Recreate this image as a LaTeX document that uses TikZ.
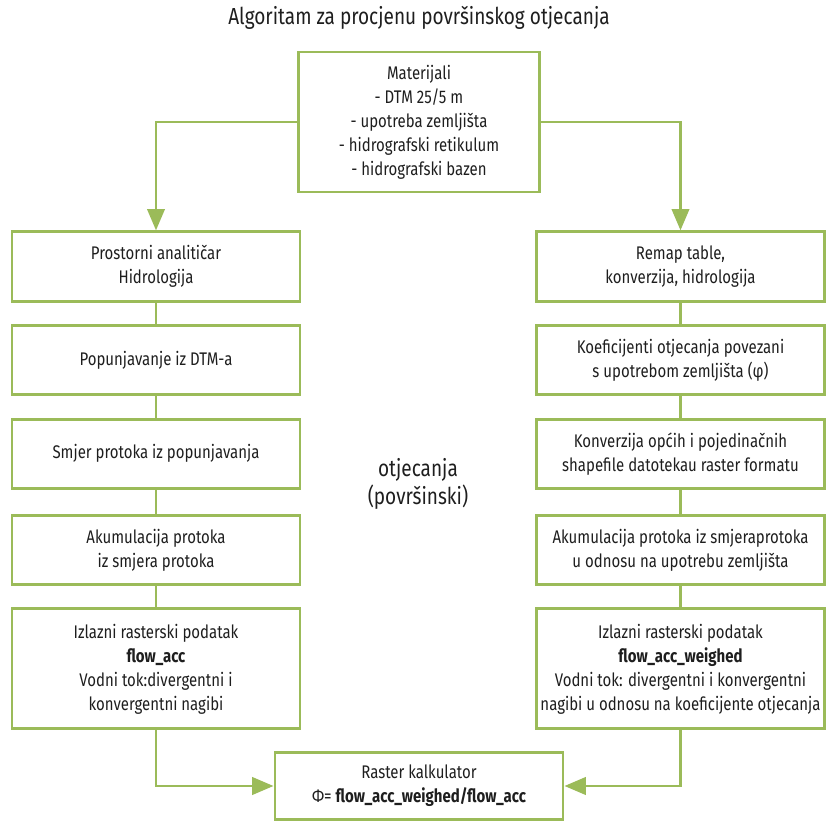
\documentclass[tikz,border=0pt]{standalone}
\usepackage{fontspec}
\setmainfont{Fira Sans}[FakeStretch=0.82]
\usetikzlibrary{positioning,arrows.meta}
\definecolor{leaf}{HTML}{9BBB59}
\definecolor{ink}{HTML}{1E1E1E}

\begin{document}
\begin{tikzpicture}[
    x=0.75pt, y=-0.75pt,
    node distance=16pt,
    align=center,
    font=\fontsize{13.7}{18}\selectfont,
    text=ink,
    heading/.style={font=\fontsize{17.4}{21}\selectfont},
    stepbox/.style={rectangle, draw=leaf, line width=2.2pt, minimum width=216pt,
      minimum height=52pt, inner sep=1pt},
    outbox/.style={stepbox, minimum height=90pt},
    link/.style={draw=leaf, line width=2.2pt},
    flow/.style={link, -{Triangle[length=16pt,width=13pt]}},
  ]

  \useasboundingbox (0,0) rectangle (826,821);

  % title and inputs
  \node (title)  [heading] at (419,18)   {Algoritam za procjenu površinskog otjecanja};
  \node (mat)    [stepbox, minimum width=181pt, minimum height=105pt] at (419,122)
                 {Materijali\\ - DTM 25/5 m\\ - upotreba zemljišta\\ - hidrografski retikulum\\ - hidrografski bazen};

  % left branch
  \node (prostor) [stepbox] at (156,266.5)          {Prostorni analitičar\\ Hidrologija};
  \node (popun)   [stepbox, below=of prostor]      {Popunjavanje iz DTM-a};
  \node (smjer)   [stepbox, below=of popun]        {Smjer protoka iz popunjavanja};
  \node (akumL)   [stepbox, below=18pt of smjer]   {Akumulacija protoka\\ iz smjera protoka};
  \node (izlazL)  [outbox, below=of akumL]         {Izlazni rasterski podatak\\ \textbf{flow\_acc}\\
                                                    Vodni tok:divergentni i\\ konvergentni nagibi};

  % right branch
  \node (remap)   [stepbox] at (680.5,266.5)        {Remap table,\\ konverzija, hidrologija};
  \node (koef)    [stepbox, below=of remap]        {Koeficijenti otjecanja povezani\\ s upotrebom zemljišta (φ)};
  \node (konv)    [stepbox, below=of koef]         {Konverzija općih i pojedinačnih\\ shapefile datotekau raster formatu};
  \node (akumR)   [stepbox, below=18pt of konv]    {Akumulacija protoka iz smjeraprotoka\\ u odnosu na upotrebu zemljišta};
  \node (izlazR)  [outbox, below=of akumR]         {Izlazni rasterski podatak\\ \textbf{flow\_acc\_weighed}\\
                                                    Vodni tok: divergentni i konvergentni\\ nagibi u odnosu na koeficijente otjecanja};

  \node (middle)  [heading] at (418,484)          {otjecanja\\ (površinski)};

  % result
  \node (kalk)    [stepbox, minimum height=50pt] at (419,786)
                  {Raster kalkulator\\ Φ= \textbf{flow\_acc\_weighed/flow\_acc}};

  % flow
  \draw[flow]  (mat.west) -| (prostor.north);
  \draw[flow]  (mat.east) -| (remap.north);

  \draw[link]  (prostor) -- (popun);
  \draw[link]  (popun)   -- (smjer);
  \draw[link]  (smjer)   -- (akumL);
  \draw[link]  (akumL)   -- (izlazL);

  \draw[link]  (remap)   -- (koef);
  \draw[link]  (koef)    -- (konv);
  \draw[link]  (konv)    -- (akumR);
  \draw[link]  (akumR)   -- (izlazR);

  \draw[flow]  (izlazL.south) |- (kalk.west);
  \draw[flow]  (izlazR.south) |- (kalk.east);

\end{tikzpicture}
\end{document}
